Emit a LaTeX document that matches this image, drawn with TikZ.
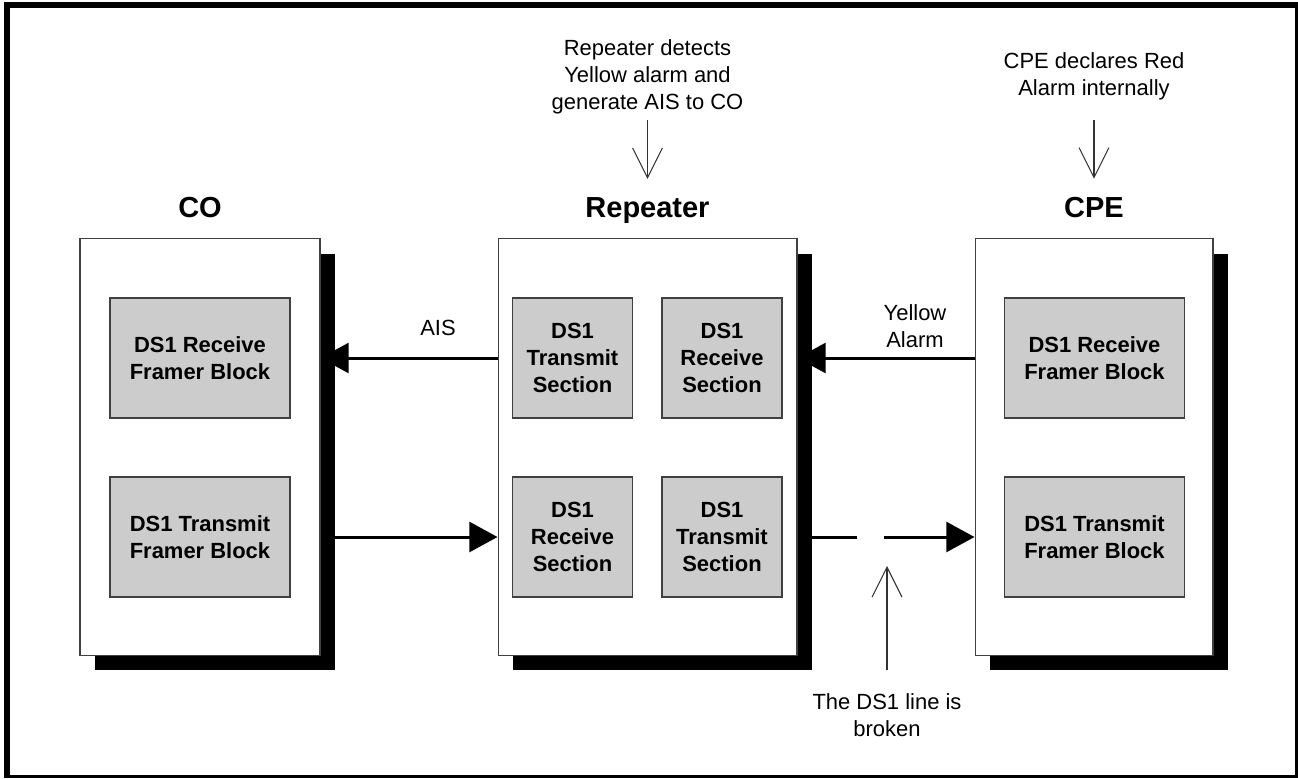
\documentclass[tikz,border=0pt]{standalone}
\usepackage{fontspec}
\setmainfont{Liberation Sans}
\usetikzlibrary{arrows.meta,positioning,shadows}
\definecolor{block-grey}{RGB}{204,204,204}
\definecolor{edge-grey}{RGB}{64,64,64}

\begin{document}
\begin{tikzpicture}[x=0.02cm, y=-0.02cm,
  every node/.style={font=\fontsize{12.5}{15.3}\selectfont, inner sep=0pt},
  site/.style={draw=edge-grey, fill=white, line width=0.6pt, minimum height=8.33cm,
    drop shadow={shadow xshift=0.3cm, shadow yshift=-0.3cm, opacity=1, fill=black}},
  block/.style={draw=edge-grey, fill=block-grey, line width=0.6pt, align=center,
    minimum width=3.6cm, minimum height=2.4cm, font=\fontsize{12.5}{15.3}\selectfont\bfseries},
  section/.style={block, minimum width=2.4cm},
  title/.style={font=\fontsize{16.5}{19}\selectfont\bfseries, anchor=base},
  note/.style={align=center},
  bigarrow/.style={line width=1.7pt, -{Triangle[length=16pt,width=17pt]}},
  wire/.style={line width=1.7pt},
  callout/.style={draw=black!80, line width=0.6pt, -{Straight Barb[length=17pt,width=17pt]}}]

  % page frame
  \useasboundingbox (0,0) rectangle (1298,778);
  \fill[black] (4,2) rectangle (1298,778);
  \fill[white] (10,8) rectangle (1294.5,775);

  % CO
  \node[site, minimum width=4.8cm] (co) at (200,447) {};
  \node[title] (cotitle) at ([yshift=11.6pt]co.north) {CO};
  \node[block] (corx) at (200,358) {DS1 Receive\\Framer Block};
  \node[block] (cotx) at (200,537) {DS1 Transmit\\Framer Block};

  % Repeater
  \node[site, minimum width=5.98cm] (rep) at (647.5,447) {};
  \node[title] (reptitle) at ([yshift=11.6pt]rep.north) {Repeater};
  \node[section] (reptxa) at (572.5,358) {DS1\\Transmit\\Section};
  \node[section] (reprxa) at (722,358) {DS1\\Receive\\Section};
  \node[section] (reprxb) at (572.5,537) {DS1\\Receive\\Section};
  \node[section] (reptxb) at (722,537) {DS1\\Transmit\\Section};

  % CPE
  \node[site, minimum width=4.76cm] (cpe) at (1094,447) {};
  \node[title] (cpetitle) at ([yshift=11.6pt]cpe.north) {CPE};
  \node[block] (cperx) at (1094.5,358) {DS1 Receive\\Framer Block};
  \node[block] (cpetx) at (1094.5,537) {DS1 Transmit\\Framer Block};

  % notes
  \node[note] (replbl) at (647.5,76.5) {Repeater detects\\Yellow alarm and\\generate AIS to CO};
  \node[note] (cpelbl) at (1094,76) {CPE declares Red\\Alarm internally};
  \node[note] (aislbl) at (438,328) {AIS};
  \node[note] (yellbl) at (915,326) {Yellow\\Alarm};
  \node[note] (brklbl) at (887,715) {The DS1 line is\\broken};

  % signal lines
  \draw[bigarrow] (rep.west |- corx) -- (co.east |- corx);
  \draw[bigarrow] (co.east |- cotx) -- (rep.west |- cotx);
  \draw[bigarrow] (cpe.west |- cperx) -- (rep.east |- cperx);
  \coordinate (brka) at (857,537);
  \coordinate (brkb) at (884,537);
  \draw[wire] (rep.east |- cpetx) -- (brka);
  \draw[bigarrow] (brkb) -- (cpe.west |- cpetx);

  % callouts
  \coordinate (brktip) at (887,566);
  \draw[callout] ([yshift=-3.7pt]replbl.south) -- ([yshift=10.6pt]reptitle.north);
  \draw[callout] ([yshift=-11.6pt]cpelbl.south) -- ([yshift=10.6pt]cpetitle.north);
  \draw[callout] ([yshift=13pt]brklbl.north) -- (brktip);
\end{tikzpicture}
\end{document}
